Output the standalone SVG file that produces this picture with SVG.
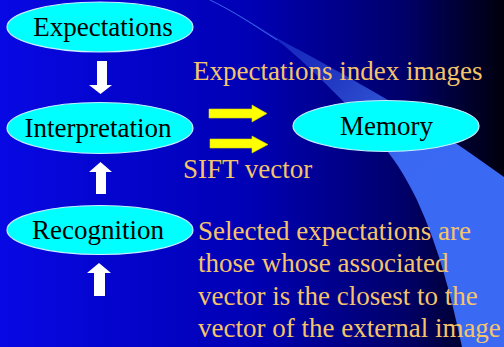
<svg xmlns="http://www.w3.org/2000/svg" width="504" height="347" viewBox="0 0 504 347">
  <defs>
    <linearGradient id="bg" x1="0" y1="0" x2="1" y2="0">
      <stop offset="0" stop-color="#0808e4"/>
      <stop offset="0.5" stop-color="#0000b4"/>
      <stop offset="0.8" stop-color="#00006a"/>
      <stop offset="1" stop-color="#00000c"/>
    </linearGradient>
    <linearGradient id="swoosh" gradientUnits="userSpaceOnUse" x1="230" y1="20" x2="470" y2="220">
      <stop offset="0" stop-color="#3a66f0" stop-opacity="0.25"/>
      <stop offset="0.35" stop-color="#3a62e8" stop-opacity="0.55"/>
      <stop offset="0.7" stop-color="#3a68f2"/>
      <stop offset="1" stop-color="#3a6af4"/>
    </linearGradient>
  </defs>
  <style>
    .node ellipse { fill: #00ffff; stroke: #c8f0ff; stroke-width: 1.2; }
    .node text { font-family: "Liberation Serif", "Times New Roman", serif; font-size: 27px; fill: #000; text-anchor: middle; }
    .label { font-family: "Liberation Serif", "Times New Roman", serif; font-size: 27px; fill: #f5c46a; }
    .white { fill: #ffffff; }
    .yellow { fill: #ffff00; stroke: #d8d800; stroke-width: 0.6; }
  </style>

  <!-- background: blue-to-black fade with a light swoosh -->
  <rect x="0" y="0" width="504" height="347" fill="url(#bg)"/>
  <path d="M210,0 C240,14 260,28 277,38 C310,56 340,72 360,84 C400,106 450,138 504,177 L504,347 L462,347 C452,300 440,250 417,200 C400,165 385,145 347,105 C320,78 300,58 277,40 C255,26 235,12 210,0 Z" fill="url(#swoosh)"/>
  <path d="M210,0 C235,12 255,26 277,40" fill="none" stroke="#4a7af8" stroke-width="1" stroke-opacity="0.8"/>

  <!-- connectors -->
  <g id="connectors">
    <polygon class="white" points="97,61 107,61 107,85 112,85 100.5,94 89,85 97,85"/>
    <polygon class="white" points="100.5,162 112,172 106,172 106,194 96,194 96,172 89,172"/>
    <polygon class="white" points="99,263 111,273 105,273 105,296 94,296 94,273 87,273"/>
    <polygon class="yellow" points="209,109 252,109 252,105 267,113.5 252,122 252,118 209,118"/>
    <polygon class="yellow" points="210,139 252,139 252,136 268,144.5 252,153 252,148 210,148"/>
  </g>

  <!-- nodes -->
  <g id="expectations" class="node">
    <ellipse cx="100" cy="27" rx="93" ry="25"/>
    <text x="103" y="36">Expectations</text>
  </g>
  <g id="interpretation" class="node">
    <ellipse cx="100" cy="128" rx="93" ry="25.5"/>
    <text x="98" y="137">Interpretation</text>
  </g>
  <g id="recognition" class="node">
    <ellipse cx="100" cy="230" rx="93" ry="24.5"/>
    <text x="98" y="239">Recognition</text>
  </g>
  <g id="memory" class="node">
    <ellipse cx="386" cy="126" rx="93" ry="25.5"/>
    <text x="386.5" y="135">Memory</text>
  </g>

  <!-- labels -->
  <text class="label" x="193" y="80">Expectations index images</text>
  <text class="label" x="183" y="178">SIFT vector</text>
  <text class="label" x="198" y="240">Selected expectations are</text>
  <text class="label" x="198" y="272">those whose associated</text>
  <text class="label" x="198" y="305">vector is the closest to the</text>
  <text class="label" x="198" y="337">vector of the external image</text>
</svg>
